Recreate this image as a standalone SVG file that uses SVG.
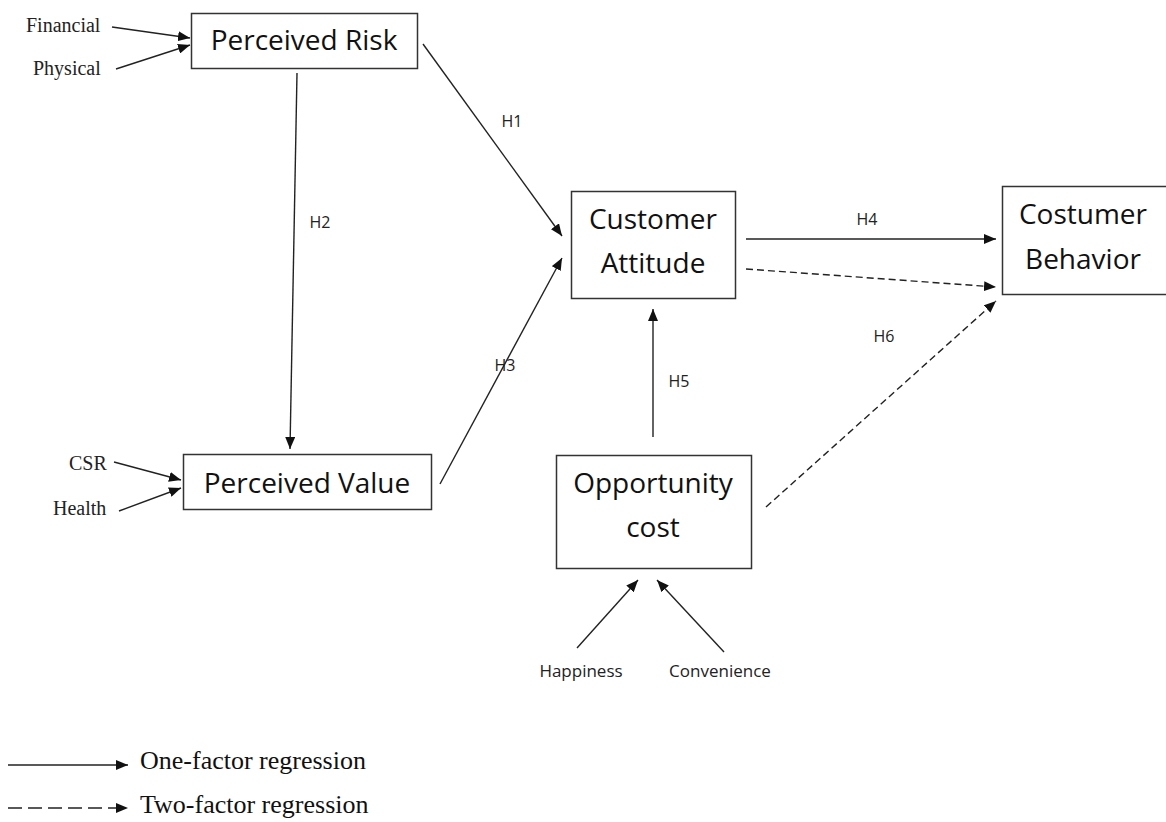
<svg xmlns="http://www.w3.org/2000/svg" width="1166" height="822" viewBox="0 0 1166 822">
  <style>
    .box { fill: #ffffff; stroke: #333333; stroke-width: 1.5; }
    .name { font-family: "Open Sans", "Noto Sans", sans-serif; font-size: 28px; fill: #111111; text-anchor: middle; }
    .hyp { font-family: "Open Sans", "Noto Sans", sans-serif; font-size: 16px; fill: #222222; text-anchor: middle; }
    .factor { font-family: "Open Sans", "Noto Sans", sans-serif; font-size: 17px; fill: #222222; text-anchor: middle; }
    .serif { font-family: "Liberation Serif", "Times New Roman", serif; font-size: 20px; fill: #222222; }
    .legend { font-family: "Liberation Serif", "Times New Roman", serif; font-size: 26px; fill: #111111; }
    .link { fill: none; stroke: #222222; stroke-width: 1.4; marker-end: url(#head); }
    .dash { stroke-dasharray: 7 4; }
    .legend-dash { stroke-dasharray: 14 6; }
  </style>
  <defs>
    <marker id="head" markerUnits="userSpaceOnUse" markerWidth="12" markerHeight="10" refX="12" refY="5" orient="auto">
      <path d="M0,0 L12,5 L0,10 Z" fill="#111111"/>
    </marker>
  </defs>

  <rect width="1166" height="822" fill="#ffffff"/>

  <!-- connectors -->
  <g id="connectors">
    <line class="link" x1="112" y1="27" x2="190" y2="38"/>
    <line class="link" x1="116" y1="69" x2="190" y2="45"/>
    <line class="link" x1="114" y1="462" x2="181" y2="480"/>
    <line class="link" x1="119" y1="511" x2="181" y2="488"/>
    <line class="link" x1="297" y1="73" x2="290" y2="449"/>
    <line class="link" x1="423" y1="44" x2="562" y2="236"/>
    <line class="link" x1="440" y1="484" x2="562" y2="258"/>
    <line class="link" x1="746" y1="239" x2="996" y2="239"/>
    <line class="link dash" x1="746" y1="269" x2="996" y2="287"/>
    <line class="link dash" x1="766" y1="507" x2="996" y2="301"/>
    <line class="link" x1="653" y1="437" x2="653" y2="309"/>
    <line class="link" x1="577" y1="648" x2="638" y2="580"/>
    <line class="link" x1="724" y1="652" x2="657" y2="580"/>
    <text class="hyp" x="512" y="127">H1</text>
    <text class="hyp" x="320" y="228">H2</text>
    <text class="hyp" x="505" y="371">H3</text>
    <text class="hyp" x="867" y="225">H4</text>
    <text class="hyp" x="679" y="387">H5</text>
    <text class="hyp" x="884" y="342">H6</text>
  </g>

  <!-- nodes -->
  <g id="perceived-risk">
    <rect class="box" x="191.5" y="13.5" width="226" height="55"/>
    <text class="name" x="304" y="50">Perceived Risk</text>
  </g>
  <g id="perceived-value">
    <rect class="box" x="183.5" y="454.5" width="248" height="55"/>
    <text class="name" x="307" y="493">Perceived Value</text>
  </g>
  <g id="customer-attitude">
    <rect class="box" x="571.5" y="191.5" width="164" height="107"/>
    <text class="name" x="653" y="229">Customer</text>
    <text class="name" x="653" y="273">Attitude</text>
  </g>
  <g id="costumer-behavior">
    <rect class="box" x="1002.5" y="186.5" width="170" height="108"/>
    <text class="name" x="1083" y="224">Costumer</text>
    <text class="name" x="1083" y="269">Behavior</text>
  </g>
  <g id="opportunity-cost">
    <rect class="box" x="556.5" y="455.5" width="195" height="113"/>
    <text class="name" x="653" y="493">Opportunity</text>
    <text class="name" x="653" y="537">cost</text>
  </g>
  <g id="financial"><text class="serif" x="26" y="32">Financial</text></g>
  <g id="physical"><text class="serif" x="33" y="75">Physical</text></g>
  <g id="csr"><text class="serif" x="69" y="470">CSR</text></g>
  <g id="health"><text class="serif" x="53" y="515">Health</text></g>
  <g id="happiness"><text class="factor" x="581" y="677">Happiness</text></g>
  <g id="convenience"><text class="factor" x="720" y="677">Convenience</text></g>

  <!-- legend -->
  <g id="legend">
    <line class="link" x1="8" y1="765" x2="128" y2="765"/>
    <text class="legend" x="140" y="769">One-factor regression</text>
    <line class="link legend-dash" x1="8" y1="808" x2="128" y2="808"/>
    <text class="legend" x="140" y="813">Two-factor regression</text>
  </g>
</svg>
